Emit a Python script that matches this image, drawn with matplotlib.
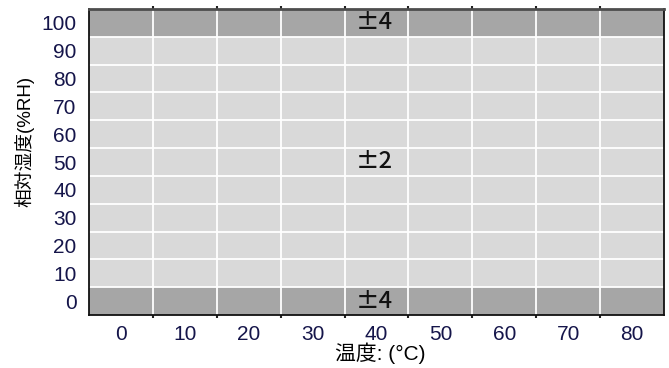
import matplotlib.pyplot as plt

plt.rcParams['font.family'] = ['Liberation Sans', 'Noto Sans CJK JP', 'DejaVu Sans']

# humidity accuracy zones (±%RH) over temperature / RH grid
temps = [0, 10, 20, 30, 40, 50, 60, 70, 80]
rh_levels = [0, 10, 20, 30, 40, 50, 60, 70, 80, 90, 100]
tolerance = [4, 2, 2, 2, 2, 2, 2, 2, 2, 2, 4]
zone_labels = [(40, 100, '±4'), (40, 50, '±2'), (40, 0, '±4')]

zone_colors = {2: '#d9d9d9', 4: '#a6a6a6'}

fig = plt.figure(figsize=(6.69, 3.68), dpi=100)
ax = fig.add_axes([89 / 669, 53 / 368, 575 / 669, 306 / 368])

step = temps[1] - temps[0]
ax.barh(rh_levels, width=len(temps) * step, left=temps[0] - step / 2, height=10,
        color=[zone_colors[t] for t in tolerance], zorder=1)

ax.set_xlim(temps[0] - step / 2, temps[-1] + step / 2)
ax.set_ylim(rh_levels[0] - 5, rh_levels[-1] + 5)

ax.set_xticks(temps)
ax.set_yticks(rh_levels)
ax.set_xticks([t + step / 2 for t in temps[:-1]], minor=True)
ax.set_yticks([r + 5 for r in rh_levels[:-1]], minor=True)
ax.grid(which='minor', color='white', linewidth=1.3)
ax.tick_params(which='major', length=0, labelsize=15, colors='#15154a')
ax.tick_params(axis='x', which='major', pad=7)
ax.tick_params(axis='y', which='major', pad=9)
ax.tick_params(axis='x', which='minor', length=2, width=1.5, color='#222222',
               top=True, direction='out')
ax.tick_params(axis='y', which='minor', length=0)

# zone labels sit above the grid lines but under the frame
for (x, y, txt) in zone_labels:
    bg = zone_colors[tolerance[rh_levels.index(y)]]
    ax.text(x - 0.4, y, txt, ha='center', va='center', fontsize=17, weight='medium',
            family=['Noto Sans CJK JP', 'DejaVu Sans'], color='#111111', zorder=2,
            bbox=dict(boxstyle='square,pad=0.05', facecolor=bg, edgecolor='none'))

for side in ['left', 'bottom', 'right']:
    ax.spines[side].set_color('#111111')
    ax.spines[side].set_linewidth(1.3)
ax.spines['top'].set_color('#4d4d4d')
ax.spines['top'].set_linewidth(2)

fig.text(380 / 669, 1 - 353 / 368, '温度: (°C)', ha='center', va='center', fontsize=15)
fig.text(24 / 669, 1 - 141 / 368, '相対湿度(%RH)', ha='center', va='center',
         fontsize=13.5, rotation=90)

fig.savefig('out.png', dpi=100)
